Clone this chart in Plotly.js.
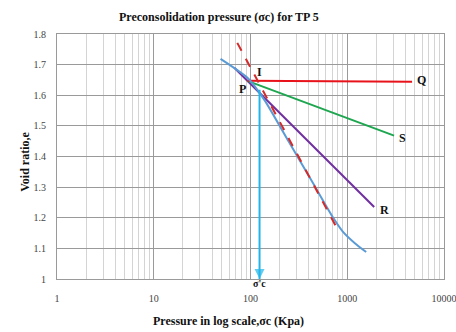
<!DOCTYPE html>
<html>
<head>
<meta charset="utf-8">
<script src="https://cdn.plot.ly/plotly-3.0.1.min.js"></script>
<style>html,body{margin:0;padding:0;background:#fff;}#chart{width:456px;height:332px;}</style>
</head>
<body>
<div id="chart"></div>
<script>
// Laboratory curve (e - log p)
const curveP = [49, 93, 139, 250, 450, 700, 900, 1200, 1570];
const curveE = [1.719, 1.657, 1.585, 1.447, 1.309, 1.205, 1.155, 1.117, 1.088];
// Casagrande construction lines
const lineQ_P = [93, 4680];
const lineQ_E = [1.647, 1.644];
const lineS_P = [93, 652, 3050];
const lineS_E = [1.647, 1.546, 1.468];
const lineR_P = [68, 1900];
const lineR_E = [1.69, 1.235];
const tangentP = [73, 771];
const tangentE = [1.771, 1.17];
// Preconsolidation pressure
const sigmaC = 124;
const sigmaLineE = [1.618, 1.0];
// Point labels
const labelText = ["I", "P", "Q", "S", "R"];
const labelP = [124, 83, 5800, 3690, 2407];
const labelE = [1.676, 1.621, 1.650, 1.461, 1.225];
// Axis ticks
const xTickVals = [1, 10, 100, 1000, 10000];
const xTickText = ["1", "10", "100", "1000", "10000"];
const yTickVals = [1, 1.1, 1.2, 1.3, 1.4, 1.5, 1.6, 1.7, 1.8];
const yTickText = ["1", "1.1", "1.2", "1.3", "1.4", "1.5", "1.6", "1.7", "1.8"];

const serif = "Liberation Serif, Times New Roman, serif";

const traces = [
  {x: lineR_P, y: lineR_E, mode: "lines", line: {color: "#7030a0", width: 2}, hoverinfo: "skip"},
  {x: lineS_P, y: lineS_E, mode: "lines", line: {color: "#1fa650", width: 2}, hoverinfo: "skip"},
  {x: lineQ_P, y: lineQ_E, mode: "lines", line: {color: "#e8121b", width: 2}, hoverinfo: "skip"},
  {x: curveP, y: curveE, mode: "lines", line: {color: "#5b9bd5", width: 2, shape: "spline", smoothing: 0.6}, hoverinfo: "skip"},
  {x: tangentP, y: tangentE, mode: "lines", line: {color: "#d42a2a", width: 2, dash: "dash"}, hoverinfo: "skip"},
  {x: [sigmaC, sigmaC], y: sigmaLineE, mode: "lines+markers",
   line: {color: "#1fb5ea", width: 2},
   marker: {symbol: "arrow-down", size: [0, 10], color: "#1fb5ea", line: {width: 0}},
   cliponaxis: false, hoverinfo: "skip"}
];

const annotations = labelText.map((t, i) => ({
  x: Math.log10(labelP[i]), y: labelE[i], xref: "x", yref: "y",
  text: "<b>" + t + "</b>", showarrow: false,
  font: {family: serif, size: 12, color: "#111"}
}));
annotations.push({
  x: Math.log10(sigmaC), y: 1.0, xref: "x", yref: "y", yshift: -4,
  text: "<b>σ'c</b>", showarrow: false,
  font: {family: serif, size: 10, color: "#111"}
});
annotations.push({
  x: 0.442, y: -0.171, xref: "paper", yref: "paper",
  text: "<b>Pressure in log scale,σc (Kpa)</b>", showarrow: false,
  xanchor: "center", yanchor: "middle",
  font: {family: serif, size: 12, color: "#111"}
});
annotations.push({
  x: -0.083, y: 0.478, xref: "paper", yref: "paper", textangle: -90,
  text: "<b>Void ratio,e</b>", showarrow: false,
  xanchor: "center", yanchor: "middle",
  font: {family: serif, size: 12, color: "#111"}
});

const layout = {
  width: 456, height: 332,
  margin: {l: 57, r: 12, t: 34, b: 53},
  paper_bgcolor: "#fff", plot_bgcolor: "#fff",
  showlegend: false,
  title: {text: "<b>Preconsolidation pressure (σc) for TP 5</b>",
          font: {family: serif, size: 12, color: "#111"},
          x: 0.48, xanchor: "center", y: 0.95, yanchor: "middle"},
  xaxis: {
    type: "log", range: [-0.0005, 4.0005],
    tickvals: xTickVals, ticktext: xTickText,
    tickfont: {family: serif, size: 10, color: "#444"},
    ticks: "", ticklabelstandoff: 10, ticklabeloverflow: "allow",
    showgrid: true, gridcolor: "#9a9a9a", gridwidth: 1,
    minor: {dtick: "D1", showgrid: true, gridcolor: "#d4d4d4", gridwidth: 1},
    showline: true, linecolor: "#9a9a9a", mirror: true, zeroline: false
  },
  yaxis: {
    range: [1, 1.8],
    tickvals: yTickVals, ticktext: yTickText,
    tickfont: {family: serif, size: 10, color: "#444"},
    ticks: "", ticklabelstandoff: 8,
    showgrid: true, gridcolor: "#9a9a9a", gridwidth: 1,
    showline: true, linecolor: "#9a9a9a", mirror: true, zeroline: false
  },
  annotations: annotations
};

Plotly.newPlot("chart", traces, layout, {displayModeBar: false, staticPlot: true});
</script>
</body>
</html>
